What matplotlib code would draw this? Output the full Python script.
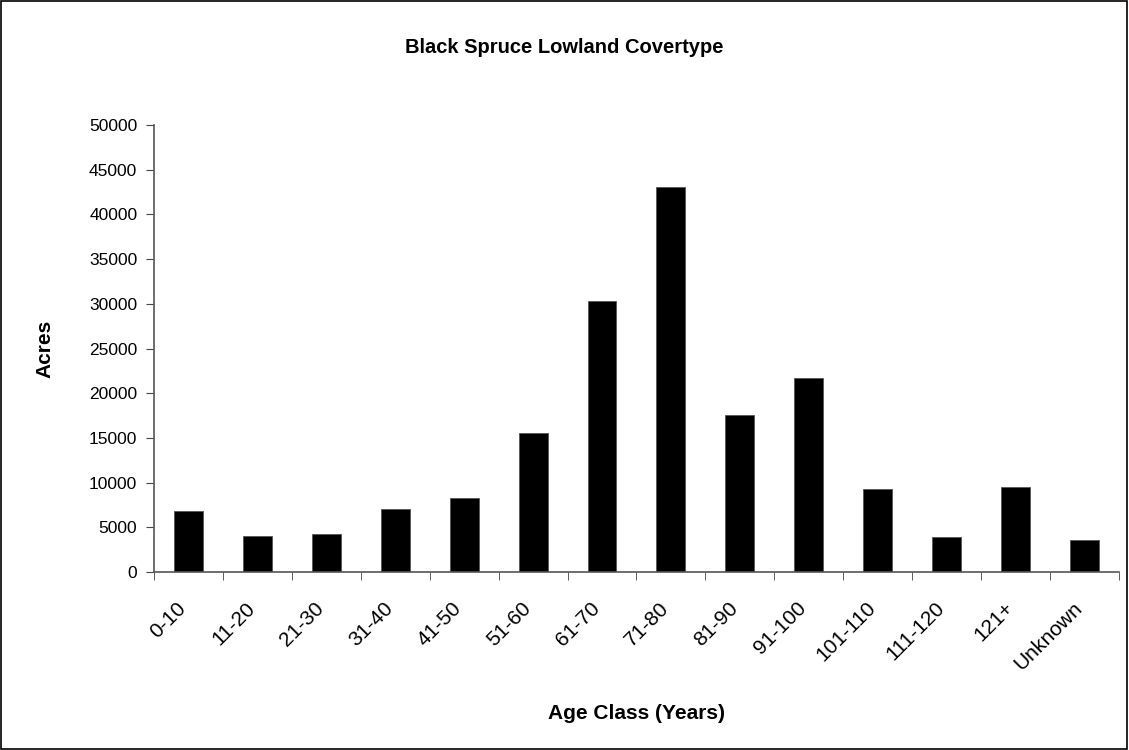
import matplotlib.pyplot as plt
from matplotlib.patches import Rectangle
from matplotlib.transforms import ScaledTranslation
import numpy as np

plt.rcParams['font.family'] = ['Liberation Sans', 'DejaVu Sans']

age_classes = ["0-10", "11-20", "21-30", "31-40", "41-50", "51-60", "61-70",
               "71-80", "81-90", "91-100", "101-110", "111-120", "121+", "Unknown"]
acres = [6850, 4000, 4200, 7070, 8300, 15520, 30300,
         43080, 17600, 21700, 9300, 3950, 9500, 3540]

fig = plt.figure(figsize=(11.29, 7.5), dpi=100)
ax = fig.add_axes([0.1364, 0.2373, 0.9911 - 0.1364, 0.8333 - 0.2373])

x = np.arange(len(age_classes))
ax.bar(x, acres, width=0.42, color='black', edgecolor='#555555', linewidth=0.6)

ax.set_xlim(-0.5, len(age_classes) - 0.5)
ax.set_ylim(0, 50000)
ax.set_yticks(range(0, 50001, 5000))
ax.tick_params(axis='y', labelsize=12.5, length=6, pad=6, direction='out', color='#444444')

# category labels at centres, tick marks at the boundaries
ax.set_xticks(x)
ax.set_xticklabels(age_classes, rotation=45, ha='right', va='top',
                   rotation_mode='anchor', fontsize=15)
ax.tick_params(axis='x', which='major', length=0, pad=19)
shift = ScaledTranslation(-0.12, 0, fig.dpi_scale_trans)
for lab in ax.get_xticklabels():
    lab.set_transform(lab.get_transform() + shift)
ax.set_xticks(np.arange(-0.5, len(age_classes), 1), minor=True)
ax.tick_params(axis='x', which='minor', length=6, direction='out', color='#444444')

for s in ['top', 'right']:
    ax.spines[s].set_visible(False)
for s in ['left', 'bottom']:
    ax.spines[s].set_color('#555555')
    ax.spines[s].set_linewidth(1.2)

fig.text(0.5, 0.937, "Black Spruce Lowland Covertype", ha='center', va='center',
         fontsize=14.5, fontweight='bold')
fig.text(0.04, 0.5347, "Acres", rotation=90, ha='center', va='center',
         fontsize=15, fontweight='bold')
fig.text(0.5637, 0.049, "Age Class (Years)", ha='center', va='center',
         fontsize=15, fontweight='bold')

fig.patches.append(Rectangle((0.0005, 0.001), 0.998, 0.998, transform=fig.transFigure,
                             fill=False, edgecolor='black', linewidth=1.2))

fig.savefig("out.png", dpi=100)
